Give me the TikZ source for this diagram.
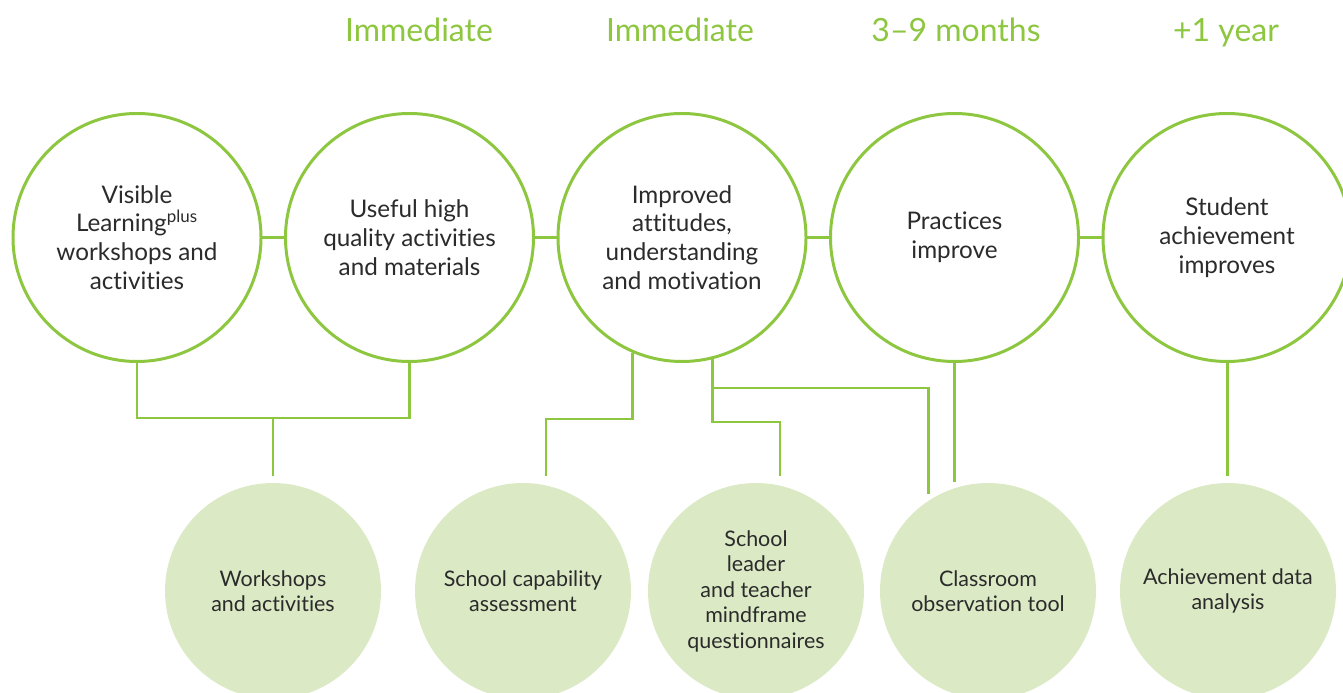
\documentclass[tikz,border=0pt]{standalone}
\usepackage{fontspec}
\setmainfont{Lato}[Ligatures=NoCommon]
\usetikzlibrary{positioning,calc}
\definecolor{leaf}{HTML}{8DC63F}
\definecolor{paleleaf}{HTML}{DBE9C5}
\definecolor{ink}{HTML}{2B2B2B}

\begin{document}
\begin{tikzpicture}[leaf, line width=1.7pt, node distance=5.45cm]
	\tikzstyle{outcome}=[circle,draw=leaf,fill=white,text=ink,minimum size=4.96cm,inner sep=0pt,align=center,font=\fontsize{13.8}{16.4}\selectfont]
	\tikzstyle{tool}=[circle,fill=paleleaf,text=ink,minimum size=4.32cm,inner sep=0pt,align=center,font=\fontsize{12.2}{14.5}\selectfont]
	\tikzstyle{when}=[text=leaf,anchor=base,font=\fontsize{18.2}{20}\selectfont]
	\useasboundingbox (0,0) rectangle (26.86,-13.86);
	% outcomes
	\node[outcome]  (A) at (2.74,-4.75) {Visible\\Learning\textsuperscript{plus}\\workshops and\\activities};
	\node[outcome]  (B)[right of=A]   {Useful high\\quality activities\\and materials};
	\node[outcome]  (C)[right of=B]   {Improved\\attitudes,\\understanding\\and motivation};
	\node[outcome]  (D)[right of=C]   {Practices\\improve};
	\node[outcome]  (E)[right of=D]   {Student\\achievement\\improves};
	% timing
	\node[when] (t1) at (8.38,-0.83)  {Immediate};
	\node[when] (t2) at (13.6,-0.83)  {Immediate};
	\node[when] (t3) at (19.12,-0.83) {3--9 months};
	\node[when] (t4) at (24.52,-0.83) {+1 year};
	% tools
	\node[tool] (W) at (5.46,-11.82)  {Workshops\\and activities};
	\node[tool] (S) at (10.46,-11.82) {School capability\\assessment};
	\node[tool] (L) at (15.12,-11.82) {School\\leader\\and teacher\\mindframe\\questionnaires};
	\node[tool] (O) at (19.76,-11.82) {Classroom\\observation tool};
	\node[tool] (R) at (24.56,-11.82) {Achievement data\\analysis};
	% joints
	\coordinate (j1) at (5.46,-8.36);
	\coordinate (j2) at (10.92,-8.38);
	\coordinate (j3) at (15.6,-8.44);
	\coordinate (j4) at (18.58,-7.76);
	\path
	(A) edge (B)
	(B) edge (C)
	(C) edge (D)
	(D) edge (E);
	\draw (A.south) |- (j1) -| (B.south);
	\draw (j1) -- ([yshift=3pt]W.north);
	\draw (C.247) |- (j2) -- ([yshift=3pt]S.north -| j2);
	\draw (C.284) |- (j3) -- ([yshift=3pt]L.north -| j3);
	\draw (j4 -| C.284) -| ([yshift=3pt]O.123);
	\draw (D.south) -- ([yshift=3pt]O.108 -| D.south);
	\draw (E.south) -- ([yshift=3pt]R.north -| E.south);
\end{tikzpicture}
\end{document}
